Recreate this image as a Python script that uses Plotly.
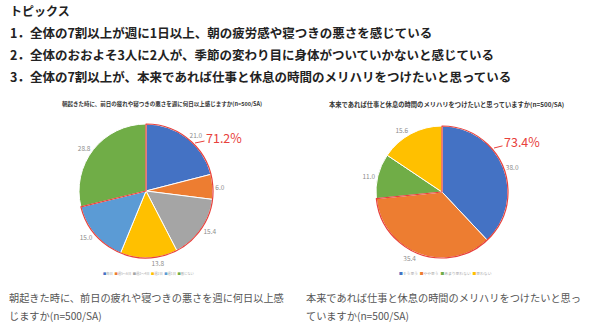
import plotly.graph_objects as go

FONT = "Noto Sans CJK JP"

header_title = "トピックス"
topics = [
    "1．全体の7割以上が週に1日以上、朝の疲労感や寝つきの悪さを感じている",
    "2．全体のおおよそ3人に2人が、季節の変わり目に身体がついていかないと感じている",
    "3．全体の7割以上が、本来であれば仕事と休息の時間のメリハリをつけたいと思っている",
]

left_title = "朝起きた時に、前日の疲れや寝つきの悪さを週に何日以上感じますか(n=500/SA)"
left_labels = ["毎日", "週5〜6日", "週3〜4日", "週2日", "週1日", "感じない"]
left_values = [21.0, 6.0, 15.4, 13.8, 15.0, 28.8]
left_colors = ["#4472C4", "#ED7D31", "#A5A5A5", "#FFC000", "#5B9BD5", "#70AD47"]
left_caption = ["朝起きた時に、前日の疲れや寝つきの悪さを週に何日以上感", "じますか(n=500/SA)"]

right_title = "本来であれば仕事と休息の時間のメリハリをつけたいと思っていますか(n=500/SA)"
right_labels = ["そう思う", "やや思う", "あまり思わない", "思わない"]
right_values = [38.0, 35.4, 11.0, 15.6]
right_colors = ["#4472C4", "#ED7D31", "#70AD47", "#FFC000"]
right_caption = ["本来であれば仕事と休息の時間のメリハリをつけたいと思っ", "ていますか(n=500/SA)"]

left_group = sum(left_values[:5])
right_group = sum(right_values[:2])

W, H = 589, 326
RED = "#E8413C"
LBL = "#8C8C8C"


def px(x):
    return x / W


def py(y):
    return 1 - y / H


def dom(cx, cy, r):
    return dict(x=[px(cx - r), px(cx + r)], y=[py(cy + r), py(cy - r)])


fig = go.Figure()

ldom = dom(146, 191, 67)
rdom = dom(442, 192, 66)

fig.add_trace(go.Pie(
    values=left_values, labels=left_labels, sort=False, direction="clockwise",
    domain=ldom, marker=dict(colors=left_colors, line=dict(color="white", width=1)),
    textposition="outside", texttemplate="%{value:.1f}",
    outsidetextfont=dict(size=6.5, color=LBL, family=FONT), showlegend=False,
    hoverinfo="skip"))
fig.add_trace(go.Pie(
    values=[left_group, 100 - left_group], sort=False, direction="clockwise",
    domain=ldom, marker=dict(colors=["rgba(0,0,0,0)", "rgba(0,0,0,0)"],
                             line=dict(color=[RED, "rgba(0,0,0,0)"], width=1.2)),
    textinfo="none", showlegend=False, hoverinfo="skip"))

fig.add_trace(go.Pie(
    values=right_values, labels=right_labels, sort=False, direction="clockwise",
    domain=rdom, marker=dict(colors=right_colors, line=dict(color="white", width=1)),
    textposition="outside", texttemplate="%{value:.1f}",
    outsidetextfont=dict(size=6.5, color=LBL, family=FONT), showlegend=False,
    hoverinfo="skip"))
fig.add_trace(go.Pie(
    values=[right_group, 100 - right_group], sort=False, direction="clockwise",
    domain=rdom, marker=dict(colors=["rgba(0,0,0,0)", "rgba(0,0,0,0)"],
                             line=dict(color=[RED, "rgba(0,0,0,0)"], width=1.2)),
    textinfo="none", showlegend=False, hoverinfo="skip"))

ann = []
ann.append(dict(x=px(8), y=py(10), xanchor="left", yanchor="middle",
                text="<b>" + header_title + "</b>", font=dict(size=12, color="#222", family=FONT)))
for i, t in enumerate(topics):
    ann.append(dict(x=px(8), y=py(32.5 + i * 22), xanchor="left", yanchor="middle",
                    text="<b>" + t + "</b>", font=dict(size=12.5, color="#222", family=FONT)))

ann.append(dict(x=px(162), y=py(103.5), xanchor="center", yanchor="middle",
                text="<b>" + left_title + "</b>", font=dict(size=5.5, color="#333", family=FONT)))
ann.append(dict(x=px(446), y=py(104.5), xanchor="center", yanchor="middle",
                text="<b>" + right_title + "</b>", font=dict(size=6.3, color="#333", family=FONT)))

ann.append(dict(x=px(195), y=py(143), ax=29, ay=-6, showarrow=True, arrowhead=0,
                arrowwidth=1, arrowcolor=RED, text=f"{left_group:.1f}%",
                font=dict(size=12.5, color=RED, family=FONT)))
ann.append(dict(x=px(494), y=py(148), ax=28, ay=-7, showarrow=True, arrowhead=0,
                arrowwidth=1, arrowcolor=RED, text=f"{right_group:.1f}%",
                font=dict(size=12.5, color=RED, family=FONT)))


def legend_text(labels, colors):
    return "  ".join(f"<span style='color:{c}'>■</span>{l}" for l, c in zip(labels, colors))


ann.append(dict(x=px(149), y=py(273), xanchor="center", yanchor="middle",
                text=legend_text(left_labels, left_colors), font=dict(size=3.3, color="#aaa", family=FONT)))
ann.append(dict(x=px(445), y=py(273), xanchor="center", yanchor="middle",
                text=legend_text(right_labels, right_colors), font=dict(size=3.8, color="#aaa", family=FONT)))

for i, t in enumerate(left_caption):
    ann.append(dict(x=px(7), y=py(297 + i * 18), xanchor="left", yanchor="middle",
                    text=t, font=dict(size=10.2, color="#555", family=FONT)))
for i, t in enumerate(right_caption):
    ann.append(dict(x=px(304), y=py(297 + i * 18), xanchor="left", yanchor="middle",
                    text=t, font=dict(size=10.2, color="#555", family=FONT)))

for a in ann:
    a.setdefault("showarrow", False)
    a["xref"] = "paper"
    a["yref"] = "paper"

fig.update_layout(width=W, height=H, margin=dict(l=0, r=0, t=0, b=0),
                  paper_bgcolor="white", plot_bgcolor="white", annotations=ann,
                  font=dict(family=FONT))

fig.write_html("out.html")
